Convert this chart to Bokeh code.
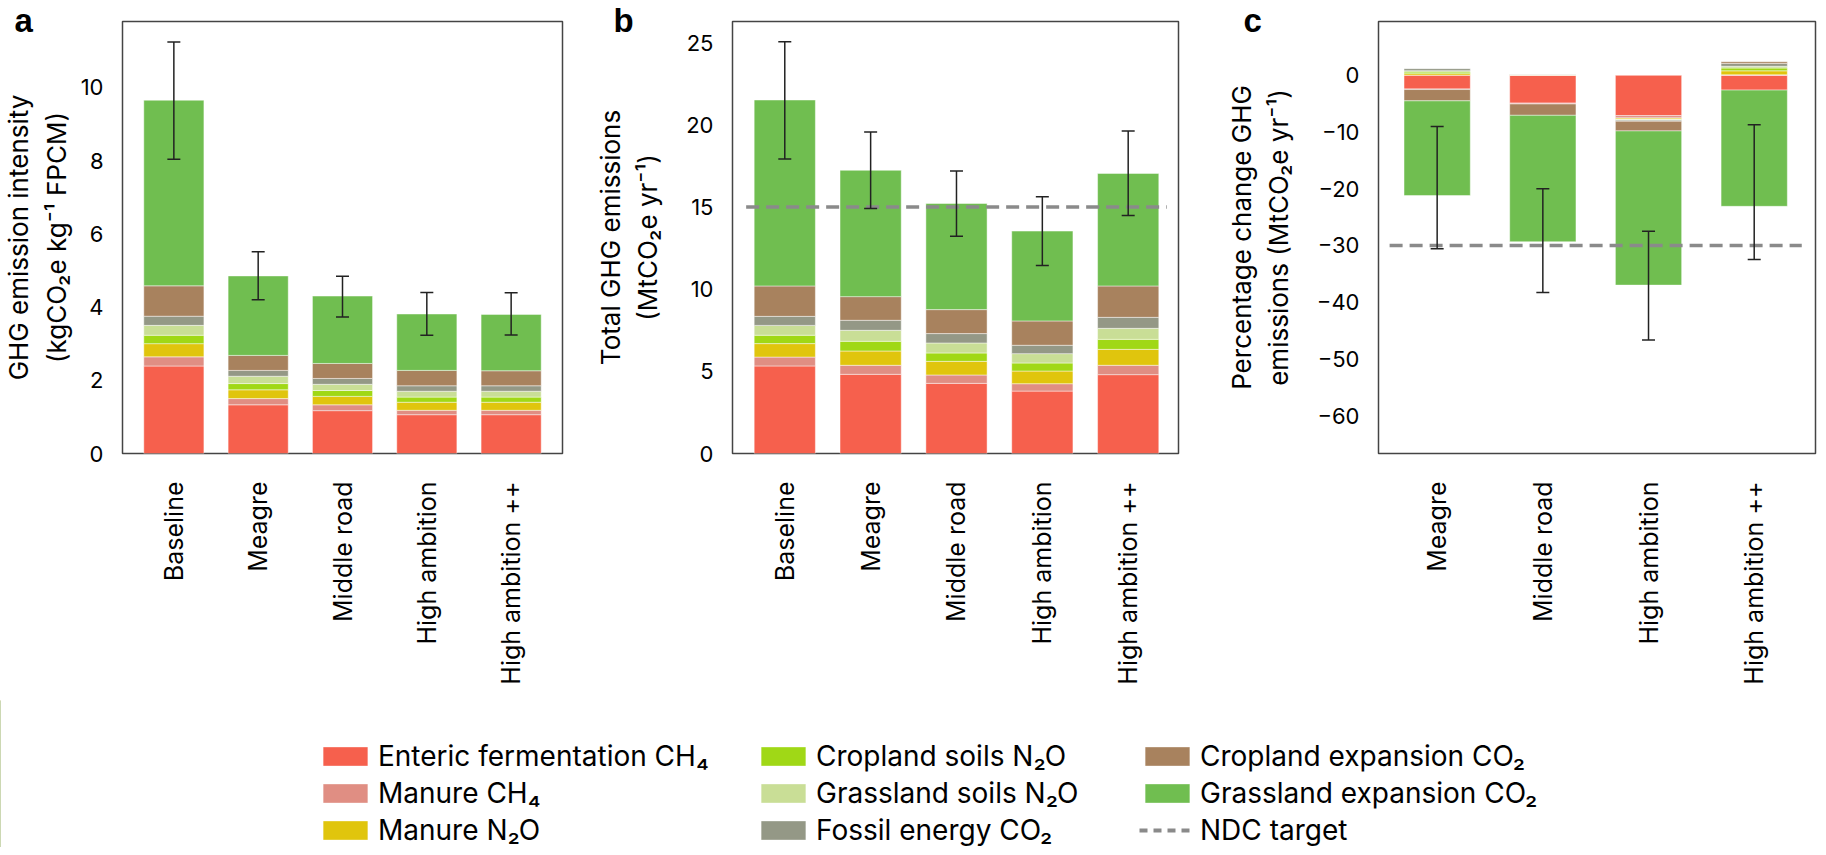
import math
import numpy as np
from bokeh.plotting import figure
from bokeh.models import (ColumnDataSource, Whisker, TeeHead, FixedTicker,
                          Legend, LegendItem, Range1d, Title)
from bokeh.layouts import column, row
from bokeh.embed import file_html
from bokeh.resources import INLINE

FONT = "Inter"

# ---------------- data ----------------
source_names = ["Enteric fermentation CH\u2084", "Manure CH\u2084", "Manure N\u2082O",
                "Cropland soils N\u2082O", "Grassland soils N\u2082O", "Fossil energy CO\u2082",
                "Cropland expansion CO\u2082", "Grassland expansion CO\u2082"]
source_colors = ["#F6604D", "#E08E83", "#E0C50D", "#A0D816", "#C9DE96", "#949886",
                 "#A8825E", "#70BE50"]

cats_ab = ["Baseline", "Meagre", "Middle road", "High ambition", "High ambition ++"]
cats_c = ["Meagre", "Middle road", "High ambition", "High ambition ++"]
panel_letters = ["a", "b", "c"]

# panel a: GHG emission intensity (kgCO2e per kg FPCM)
a_enteric = [2.39, 1.33, 1.17, 1.06, 1.06]
a_manure_ch4 = [0.25, 0.17, 0.16, 0.12, 0.12]
a_manure_n2o = [0.36, 0.24, 0.23, 0.22, 0.22]
a_crop_soils = [0.23, 0.17, 0.16, 0.14, 0.14]
a_grass_soils = [0.27, 0.20, 0.17, 0.16, 0.16]
a_fossil = [0.25, 0.16, 0.16, 0.15, 0.15]
a_crop_exp = [0.83, 0.41, 0.41, 0.42, 0.41]
a_grass_exp = [5.07, 2.17, 1.84, 1.54, 1.54]
a_err_low = [8.04, 4.20, 3.73, 3.23, 3.24]
a_err_high = [11.24, 5.51, 4.84, 4.40, 4.39]

# panel b: total GHG emissions (MtCO2e per yr)
b_enteric = [5.33, 4.82, 4.27, 3.80, 4.80]
b_manure_ch4 = [0.54, 0.55, 0.51, 0.45, 0.57]
b_manure_n2o = [0.82, 0.87, 0.83, 0.77, 0.97]
b_crop_soils = [0.51, 0.59, 0.51, 0.49, 0.61]
b_grass_soils = [0.60, 0.67, 0.61, 0.57, 0.67]
b_fossil = [0.55, 0.61, 0.57, 0.51, 0.67]
b_crop_exp = [1.85, 1.44, 1.46, 1.48, 1.91]
b_grass_exp = [11.32, 7.69, 6.46, 5.47, 6.85]
b_err_low = [17.93, 14.92, 13.23, 11.44, 14.49]
b_err_high = [25.06, 19.57, 17.20, 15.63, 19.63]
ndc_total = 15

# panel c: percentage change vs baseline
c_enteric = [-2.4, -4.9, -7.1, -2.6]
c_manure_ch4 = [-0.1, -0.15, -0.4, 0.1]
c_manure_n2o = [0.3, 0.05, -0.2, 0.7]
c_crop_soils = [0.28, 0.05, -0.1, 0.5]
c_grass_soils = [0.25, 0.04, -0.1, 0.3]
c_fossil = [0.35, 0.04, -0.2, 0.5]
c_crop_exp = [-2.0, -2.0, -1.7, 0.3]
c_grass_exp = [-16.7, -22.3, -27.2, -20.5]
c_err_low = [-30.6, -38.3, -46.7, -32.5]
c_err_high = [-9.0, -20.0, -27.5, -8.7]
ndc_change = -30

a_ticks = [0, 2, 4, 6, 8, 10]
b_ticks = [0, 5, 10, 15, 20, 25]
c_ticks = [0, -10, -20, -30, -40, -50, -60]

FIG_H = 700
TOP = 21
BOTTOM = 247


# ---------------- helpers ----------------
def stacked_bounds(series):
    n = len(series[0])
    pos = np.zeros(n)
    neg = np.zeros(n)
    out = []
    for s in series:
        v = np.asarray(s, dtype=float)
        bottom = np.where(v >= 0, pos, neg + v)
        top = np.where(v >= 0, pos + v, neg)
        pos = pos + np.where(v >= 0, v, 0)
        neg = neg + np.where(v < 0, v, 0)
        out.append((bottom, top))
    return out


def tick_text(t):
    return ("\u2212" + str(abs(t))) if t < 0 else str(t)


def panel(cats, series, err_lo, err_hi, yr, ticks, ylabel, width, left, right,
          xr, bar_w, ndc, label_standoff, letter, letter_offset):
    p = figure(width=width, height=FIG_H, x_range=Range1d(*xr), y_range=Range1d(*yr),
               output_backend="svg", toolbar_location=None, title=None,
               min_border_left=left, min_border_right=right,
               min_border_top=TOP, min_border_bottom=BOTTOM)
    p.grid.visible = False
    p.outline_line_color = "#444444"
    p.outline_line_width = 1.5
    p.background_fill_color = "white"
    p.border_fill_color = "white"

    xs = list(range(len(cats)))
    for (bottom, top), col in zip(stacked_bounds(series), source_colors):
        src = ColumnDataSource(dict(x=xs, bottom=bottom, top=top))
        p.vbar(x="x", bottom="bottom", top="top", width=bar_w, source=src,
               fill_color=col, line_color="white", line_alpha=0.45, line_width=1)

    # NDC target
    p.line(x=[-0.45, len(cats) - 1 + 0.45], y=[ndc, ndc], line_color="#8a8a8a",
           line_width=3.5, line_dash="13 7")

    esrc = ColumnDataSource(dict(x=xs, lo=err_lo, hi=err_hi))
    w = Whisker(source=esrc, base="x", lower="lo", upper="hi",
                line_color="#222222", line_width=1.5, level="annotation",
                upper_head=TeeHead(size=13, line_color="#222222", line_width=1.5),
                lower_head=TeeHead(size=13, line_color="#222222", line_width=1.5))
    p.add_layout(w)

    # axes
    yax = p.yaxis[0]
    yax.ticker = FixedTicker(ticks=ticks)
    yax.major_label_overrides = {t: tick_text(t) for t in ticks}
    yax.axis_line_color = None
    yax.major_tick_line_color = None
    yax.minor_tick_line_color = None
    yax.major_label_standoff = 13
    yax.major_label_text_font = FONT
    yax.major_label_text_font_size = "22px"
    yax.major_label_text_color = "black"
    yax.axis_label = ylabel
    yax.axis_label_text_font = FONT
    yax.axis_label_text_font_size = "26px"
    yax.axis_label_text_font_style = "normal"
    yax.axis_label_text_color = "black"
    yax.axis_label_standoff = label_standoff

    xax = p.xaxis[0]
    xax.ticker = FixedTicker(ticks=xs)
    xax.major_label_overrides = {i: c for i, c in enumerate(cats)}
    xax.major_label_orientation = math.pi / 2
    xax.axis_line_color = None
    xax.major_tick_line_color = None
    xax.minor_tick_line_color = None
    xax.major_label_standoff = 22
    xax.major_label_text_font = FONT
    xax.major_label_text_font_size = "25px"
    xax.major_label_text_color = "black"

    # panel letter as a title placed left of the frame
    p.add_layout(Title(text=letter, align="left", offset=letter_offset, standoff=-34,
                       vertical_align="bottom", text_font="Liberation Sans",
                       text_font_size="33px", text_font_style="bold",
                       text_color="black"), "above")
    return p


series_a = [a_enteric, a_manure_ch4, a_manure_n2o, a_crop_soils, a_grass_soils,
            a_fossil, a_crop_exp, a_grass_exp]
series_b = [b_enteric, b_manure_ch4, b_manure_n2o, b_crop_soils, b_grass_soils,
            b_fossil, b_crop_exp, b_grass_exp]
series_c = [c_enteric, c_manure_ch4, c_manure_n2o, c_crop_soils, c_grass_soils,
            c_fossil, c_crop_exp, c_grass_exp]

pa = panel(cats_ab, series_a, a_err_low, a_err_high, (0, 11.8), a_ticks,
           "GHG emission intensity\n(kgCO\u2082e kg\u207b\u00b9 FPCM)",
           592, 108, 30, (-0.609, 4.609), 0.713, -100, 6, panel_letters[0], -108)
pb = panel(cats_ab, series_b, b_err_low, b_err_high, (0, 26.3), b_ticks,
           "Total GHG emissions\n(MtCO\u2082e yr\u207b\u00b9)",
           630, 134, 44, (-0.609, 4.586), 0.713, ndc_total, 20, panel_letters[1], -119)
pc = panel(cats_c, series_c, c_err_low, c_err_high, (-66.7, 9.5), c_ticks,
           "Percentage change GHG\nemissions (MtCO\u2082e yr\u207b\u00b9)",
           595, 138, 2, (-0.555, 3.58), 0.627, ndc_change, 20, panel_letters[2], -135)

# ---------------- legend ----------------
pl = figure(width=1810, height=147, output_backend="svg", toolbar_location=None,
            title=None, x_axis_location=None, y_axis_location=None,
            x_range=Range1d(0, 1), y_range=Range1d(0, 1),
            min_border_left=0, min_border_right=0, min_border_top=0, min_border_bottom=0)
pl.grid.visible = False
pl.outline_line_color = None

rends = []
for col in source_colors:
    rends.append(pl.vbar(x=[-10], top=[1], width=1, fill_color=col, line_color="white",
                         line_alpha=0.45))
ndc_r = pl.line(x=[-10, -9], y=[0, 0], line_color="#8a8a8a", line_width=4,
                line_dash="8 6")

labels = source_names + ["NDC target"]
all_r = rends + [ndc_r]
col_x = [317, 755, 1139]
for k in range(3):
    items = [LegendItem(label=labels[3 * k + j], renderers=[all_r[3 * k + j]])
             for j in range(3)]
    lg = Legend(items=items, location=(col_x[k], 0), orientation="vertical",
                glyph_width=56, glyph_height=24, label_height=24, spacing=3,
                padding=0, margin=0, border_line_color=None, background_fill_alpha=0,
                label_text_font=FONT, label_text_font_size="28px",
                label_standoff=5, label_text_color="black")
    pl.add_layout(lg)

layout = column(row(pa, pb, pc), pl)
open("out.html", "w").write(file_html(layout, INLINE))
